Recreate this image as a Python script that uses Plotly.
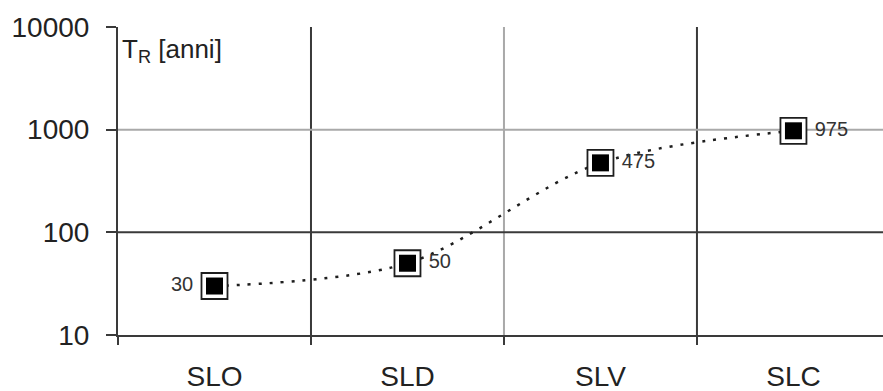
import plotly.graph_objects as go

categories = ["SLO", "SLD", "SLV", "SLC"]
return_periods = [30, 50, 475, 975]
point_labels = ["30", "50", "475", "975"]
label_positions = ["middle left", "middle right", "middle right", "middle right"]
y_tick_values = [10, 100, 1000, 10000]
y_tick_text = ["10", "100", "1000", "10000"]

DARK = "#3a3a3a"
GREY = "#a9a9a9"
FONT = "Arial, Liberation Sans, sans-serif"

padded_labels = [
    (t + "\u2009") if p.endswith("left") else ("\u2009" + t)
    for t, p in zip(point_labels, label_positions)
]

fig = go.Figure()

fig.add_trace(go.Scatter(
    x=categories, y=return_periods, mode="lines",
    line=dict(color="#1e1e1e", width=2.5, dash="3px,8px", shape="spline", smoothing=0.9),
    hoverinfo="skip", showlegend=False,
))
fig.add_trace(go.Scatter(
    x=categories, y=return_periods, mode="markers+text",
    marker=dict(symbol="square", size=26, color="white", line=dict(color="#1e1e1e", width=1.8)),
    text=padded_labels, textposition=label_positions,
    textfont=dict(family=FONT, size=20, color="#333333"),
    showlegend=False,
))
fig.add_trace(go.Scatter(
    x=categories, y=return_periods, mode="markers",
    marker=dict(symbol="square", size=17, color="black", line=dict(width=0)),
    showlegend=False,
))

shapes = []
for b, col in [(0.5, DARK), (1.5, GREY), (2.5, DARK)]:
    shapes.append(dict(type="line", xref="x", yref="paper", x0=b, x1=b, y0=0, y1=1,
                       line=dict(color=col, width=2), layer="between"))
for v, col in [(100, DARK), (1000, GREY)]:
    shapes.append(dict(type="line", xref="paper", yref="y", x0=0, x1=1, y0=v, y1=v,
                       line=dict(color=col, width=2), layer="between"))

fig.update_layout(
    width=883, height=391,
    margin=dict(l=118, r=0, t=27, b=56),
    paper_bgcolor="white", plot_bgcolor="white",
    font=dict(family=FONT, color="#222222"),
    shapes=shapes,
    annotations=[dict(
        text="T<sub>R</sub> [anni]", xref="paper", yref="paper", x=0, y=1,
        xanchor="left", yanchor="top", xshift=2, yshift=-5, showarrow=False,
        font=dict(family=FONT, size=26, color="#222222"),
    )],
    xaxis=dict(
        type="category", categoryorder="array", categoryarray=categories,
        range=[-0.5, 3.464], tickson="boundaries", automargin=False,
        ticks="outside", ticklen=8, tickwidth=2, tickcolor=DARK,
        showline=True, linecolor=DARK, linewidth=2, showgrid=False, zeroline=False,
        tickfont=dict(family=FONT, size=28, color="#222222"),
        ticklabelstandoff=15,
    ),
    yaxis=dict(
        type="log", range=[1, 4], automargin=False,
        tickmode="array", tickvals=y_tick_values, ticktext=y_tick_text,
        ticks="outside", ticklen=10, tickwidth=2, tickcolor=DARK,
        showline=True, linecolor=DARK, linewidth=2, showgrid=False, zeroline=False,
        tickfont=dict(family=FONT, size=28, color="#222222"),
        ticklabelstandoff=11,
    ),
)

fig.write_html(
    "out.html",
    config={"displayModeBar": False},
    post_script="document.body.style.margin='0';document.body.style.overflow='hidden';",
)
